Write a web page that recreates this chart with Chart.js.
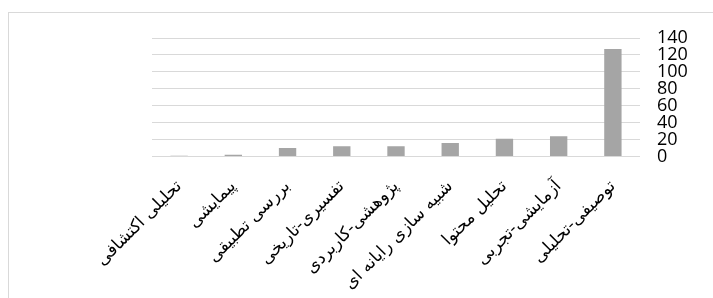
<!DOCTYPE html>
<html>
<head>
<meta charset="utf-8">
<script src="https://cdn.jsdelivr.net/npm/chart.js@4"></script>
<style>
  html, body { margin: 0; padding: 0; background: #fff; overflow: hidden; }
  #wrap { position: relative; width: 713px; height: 298px; }
  #frame { position: absolute; left: 8px; top: 12px; width: 800px; height: 400px; border: 1px solid #d9d9d9; }
  canvas { position: absolute; left: 0; top: 0; }
</style>
</head>
<body>
<div id="wrap">
  <div id="frame"></div>
  <canvas id="chart1" width="713" height="298"></canvas>
</div>
<script>
// categories left to right (as in the picture)
const methods = [
    'تحلیلی اکتشافی',
    'پیمایشی',
    'بررسی تطبیقی',
    'تفسیری-تاریخی',
    'پژوهشی-کاربردی',
    'شبیه سازی رایانه ای',
    'تحلیل محتوا',
    'آزمایشی-تجربی',
    'توصیفی-تحلیلی'
];
const counts = [1, 2, 10, 12, 12, 16, 21, 24, 127];
const yTicks = [0, 20, 40, 60, 80, 100, 120, 140];

var ctx1 = document.getElementById('chart1').getContext('2d');

var chart1 = new Chart(ctx1, {
    type: 'bar',
    data: {
        labels: methods,
        datasets: [{
            data: counts,
            backgroundColor: '#a5a5a5',
            borderWidth: 0,
            barPercentage: 0.32,
            categoryPercentage: 1
        }]
    },
    options: {
        responsive: false,
        animation: false,
        layout: {
            padding: { left: 152, right: 0, top: 38, bottom: 0 }
        },
        scales: {
            x: {
                grid: { display: false },
                border: { display: false },
                ticks: {
                    color: '#000',
                    font: { family: 'DejaVu Sans', size: 17 },
                    minRotation: 45,
                    maxRotation: 45,
                    autoSkip: false,
                    padding: 12
                },
                afterFit: function(scale) { scale.height = 141.5; }
            },
            y: {
                position: 'right',
                min: 0,
                max: 140,
                afterBuildTicks: function(scale) {
                    scale.ticks = yTicks.map(v => ({ value: v }));
                },
                grid: { color: '#d9d9d9', lineWidth: 1, drawTicks: false },
                border: { display: false },
                ticks: {
                    color: '#000',
                    font: { family: 'Open Sans', size: 18, lineHeight: 1 },
                    autoSkip: false,
                    padding: 17
                },
                afterFit: function(scale) { scale.width = 73; }
            }
        },
        plugins: {
            legend: { display: false },
            tooltip: { enabled: false }
        }
    }
});
</script>
</body>
</html>
